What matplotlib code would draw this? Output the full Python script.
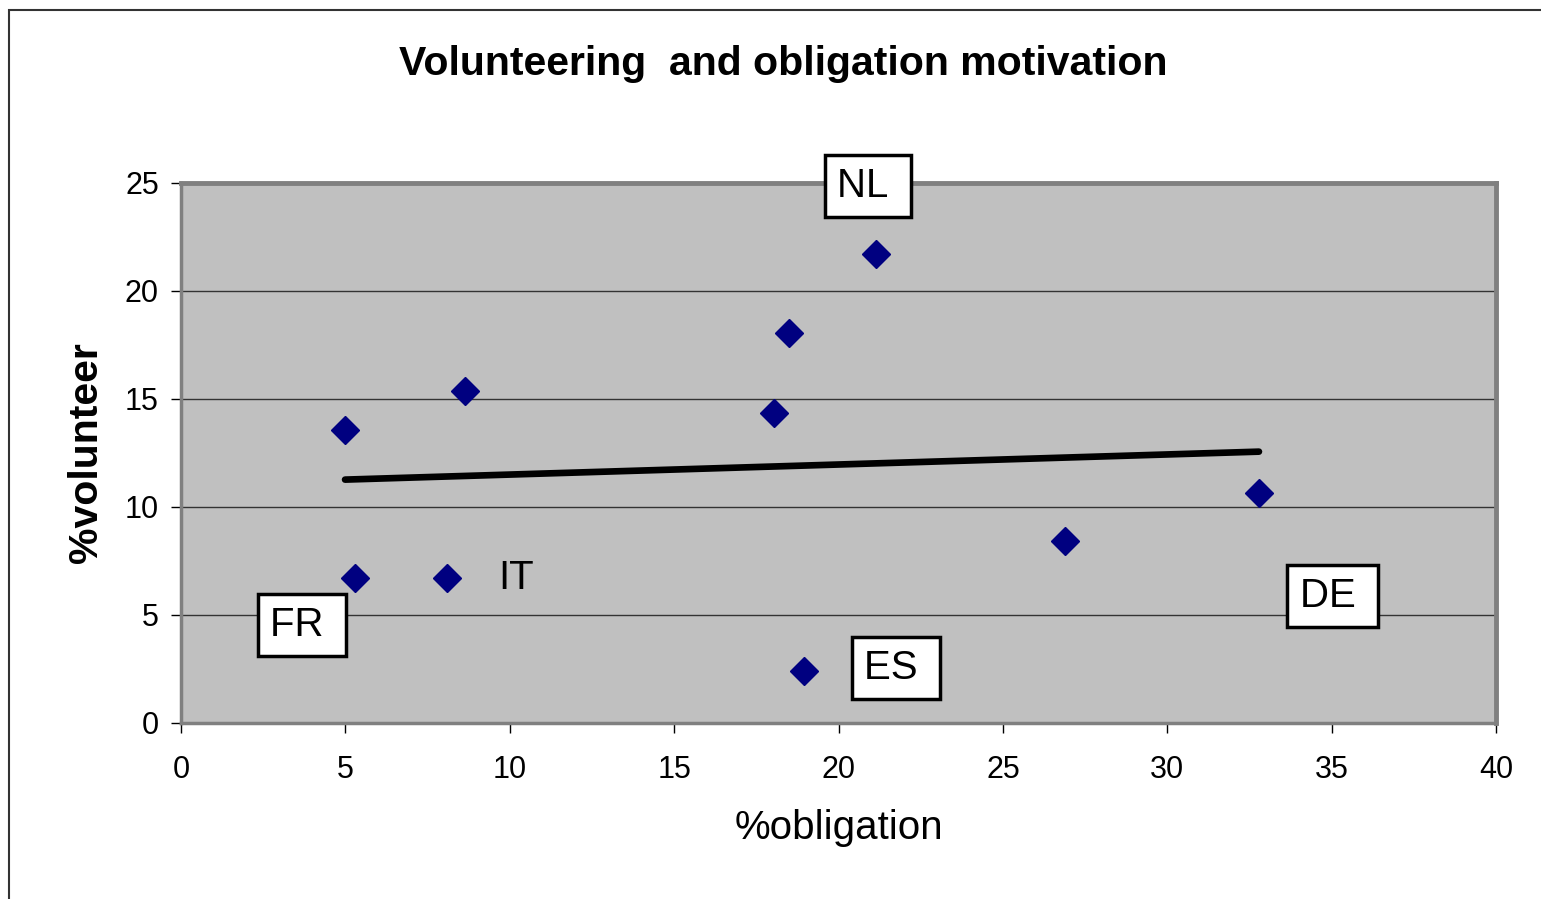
import numpy as np
import matplotlib.pyplot as plt
from matplotlib.patches import Rectangle

plt.rcParams["font.family"] = ["Liberation Sans", "DejaVu Sans"]

# % obligation vs % volunteer, one point per country
obligation = [4.99, 5.29, 8.09, 8.64, 18.04, 18.49, 18.95, 21.14, 26.89, 32.79]
volunteer = [13.56, 6.71, 6.71, 15.37, 14.35, 18.06, 2.41, 21.71, 8.43, 10.65]
country = ["", "FR", "IT", "", "", "", "ES", "NL", "", "DE"]

x_ticks = [0, 5, 10, 15, 20, 25, 30, 35, 40]
y_ticks = [0, 5, 10, 15, 20, 25]

# label placement: offset of label centre from its point in pixels, boxed or not
label_offsets = {
    "NL": (-8, 68, True),
    "FR": (-53, -47, True),
    "IT": (69, 0, False),
    "ES": (92, 3, True),
    "DE": (74, -103, True),
}

fig = plt.figure(figsize=(15.41, 8.99), dpi=100)
fig.patches.append(Rectangle((9 / 1541, -0.1), 1.2, 1 - 10 / 899 + 0.1,
                             transform=fig.transFigure, fill=False,
                             edgecolor="#333333", linewidth=1.5))

ax = fig.add_axes([181 / 1541, 1 - 723 / 899, (1496 - 181) / 1541, (723 - 183) / 899])
ax.set_facecolor("#C0C0C0")
ax.set_xlim(0, 40)
ax.set_ylim(0, 25)
ax.set_xticks(x_ticks)
ax.set_yticks(y_ticks)
ax.tick_params(labelsize=22, length=7, width=1, color="black", direction="out")
ax.tick_params(axis="x", pad=16)
ax.tick_params(axis="y", pad=9)
ax.grid(axis="y", color="#333333", linewidth=1)
ax.set_axisbelow(True)
for side, sp in ax.spines.items():
    sp.set_color("#808080")
    sp.set_linewidth(3.5 if side in ("top", "right") else 2.5)

# linear trendline
slope, intercept = np.polyfit(obligation, volunteer, 1)
xs = np.array([min(obligation), max(obligation)])
ax.plot(xs, slope * xs + intercept, color="black", linewidth=4.8,
        solid_capstyle="round", zorder=3)

ax.plot(obligation, volunteer, linestyle="none", marker="D", markersize=14.5,
        color="#000080", zorder=4)

for x, y, name in zip(obligation, volunteer, country):
    if not name:
        continue
    dx, dy, boxed = label_offsets[name]
    kw = {}
    if boxed:
        kw["bbox"] = dict(boxstyle="square,pad=0.3", facecolor="white",
                          edgecolor="black", linewidth=2.5)
        name = name + " "
    ax.annotate(name, (x, y), xytext=(dx, dy), textcoords="offset pixels",
                ha="center", va="center", fontsize=29, zorder=5,
                annotation_clip=False, **kw)

ax.set_xlabel("%obligation", fontsize=29, labelpad=17)
ax.set_ylabel("%volunteer", fontsize=29.5, fontweight="bold", labelpad=14)

fig.text(783 / 1541, 1 - 64 / 899, "Volunteering  and obligation motivation",
         ha="center", va="center", fontsize=29.5, fontweight="bold")

fig.savefig("out.png", dpi=100)
